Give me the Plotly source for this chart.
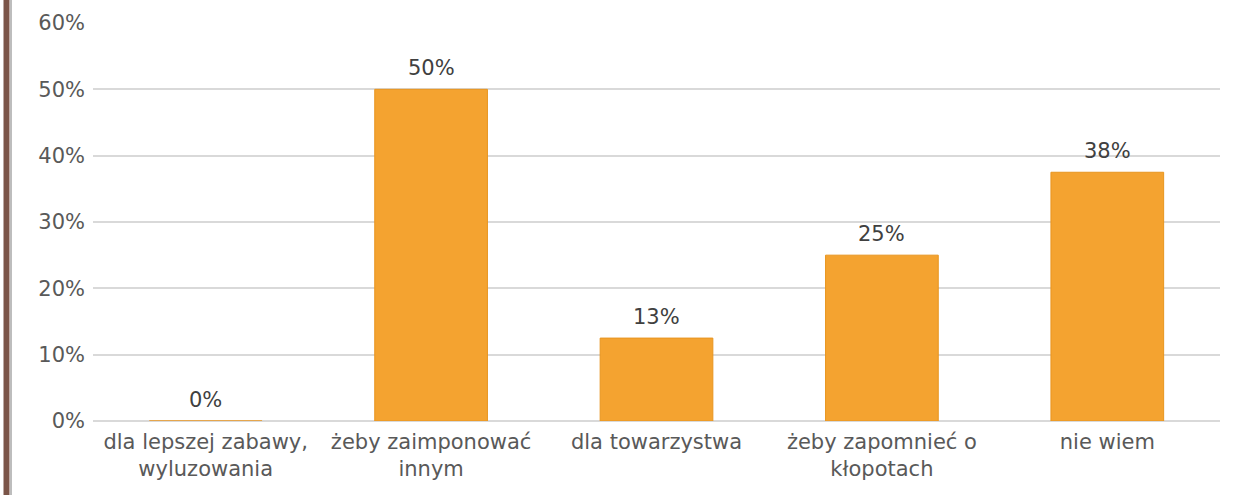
import plotly.graph_objects as go

categories = [
    "dla lepszej zabawy,<br>wyluzowania",
    "żeby zaimponować<br>innym",
    "dla towarzystwa",
    "żeby zapomnieć o<br>kłopotach",
    "nie wiem",
]
values = [0.0, 0.5, 0.125, 0.25, 0.375]
y_ticks = [0, 0.1, 0.2, 0.3, 0.4, 0.5, 0.6]

FONT = "DejaVu Sans"
BAR = "#F4A330"
W, H = 1243, 495
ML, MR, MT, MB = 93, 23, 22, 74

# round half up, like the spreadsheet does (12.5% -> 13%)
labels = [f"{int(v * 100 + 0.5)}%" for v in values]

fig = go.Figure(
    go.Bar(
        x=categories,
        y=values,
        marker=dict(color=BAR, line=dict(color="#E8951F", width=1)),
        hoverinfo="skip",
    )
)

for cat, v, lab in zip(categories, values, labels):
    fig.add_annotation(
        x=cat, y=v, text=lab, showarrow=False,
        yanchor="bottom", yshift=7,
        font=dict(family=FONT, size=21, color="#404040"),
    )

pw, ph = W - ML - MR, H - MT - MB
border_x = (6.5 - ML) / pw
line_x = (11 - ML) / pw

fig.update_layout(
    width=W,
    height=H,
    paper_bgcolor="white",
    plot_bgcolor="white",
    margin=dict(l=ML, r=MR, t=MT, b=MB),
    bargap=0.5,
    showlegend=False,
    font=dict(family=FONT, size=21, color="#595959"),
    xaxis=dict(
        showgrid=False,
        showline=False,
        ticks="",
        ticklabelstandoff=6,
        tickfont=dict(family=FONT, size=21, color="#595959"),
    ),
    yaxis=dict(
        range=[0, 0.6015],
        tickvals=y_ticks,
        tickformat=".0%",
        showgrid=True,
        gridcolor="#D9D9D9",
        gridwidth=2,
        zeroline=True,
        zerolinecolor="#D9D9D9",
        zerolinewidth=2,
        ticks="",
        ticklabelstandoff=7,
        tickfont=dict(family=FONT, size=21, color="#595959"),
    ),
    shapes=[
        dict(type="line", xref="paper", yref="paper",
             x0=border_x, x1=border_x, y0=-MB / ph, y1=1 + MT / ph,
             line=dict(color="#7B5548", width=6)),
        dict(type="line", xref="paper", yref="paper",
             x0=line_x, x1=line_x, y0=-MB / ph, y1=1 + MT / ph,
             line=dict(color="#BDBDBD", width=2)),
    ],
)

fig.write_html(
    "out.html",
    config={"displayModeBar": False},
    post_script="document.body.style.margin='0';",
)
